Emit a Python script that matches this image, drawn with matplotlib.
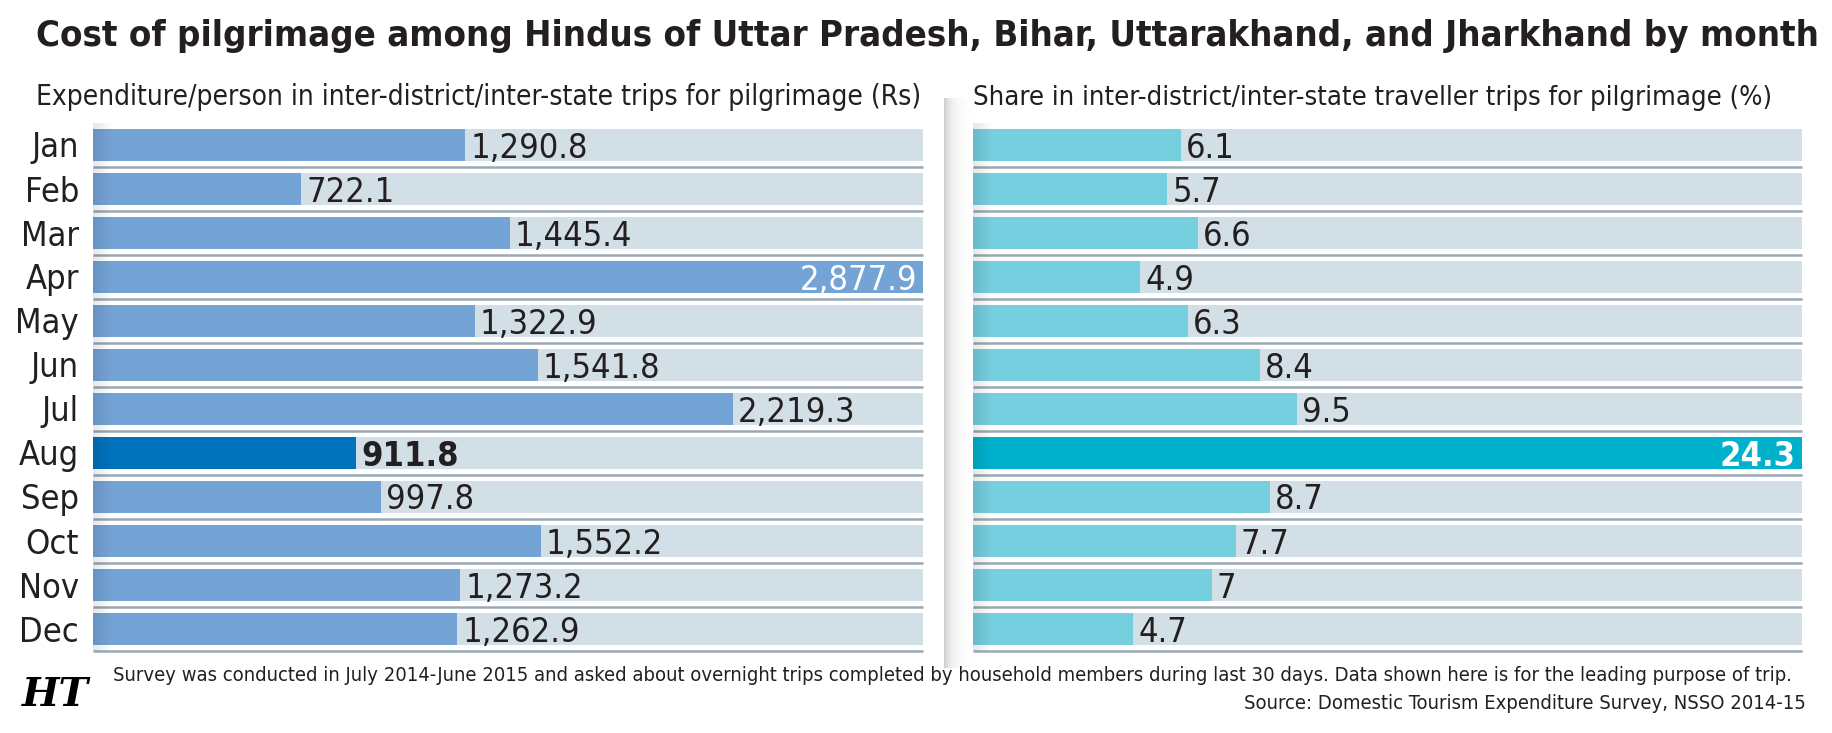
import matplotlib
matplotlib.use("Agg")
import matplotlib.pyplot as plt
import numpy as np
from matplotlib import font_manager as fm
from matplotlib.textpath import TextPath

# data
months = ["Jan", "Feb", "Mar", "Apr", "May", "Jun", "Jul", "Aug", "Sep", "Oct", "Nov", "Dec"]
spend = [1290.8, 722.1, 1445.4, 2877.9, 1322.9, 1541.8, 2219.3, 911.8, 997.8, 1552.2, 1273.2, 1262.9]
share = [6.1, 5.7, 6.6, 4.9, 6.3, 8.4, 9.5, 24.3, 8.7, 7.7, 7.0, 4.7]
highlight_month = "Aug"

title = "Cost of pilgrimage among Hindus of Uttar Pradesh, Bihar, Uttarakhand, and Jharkhand by month"
left_subtitle = "Expenditure/person in inter-district/inter-state trips for pilgrimage (Rs)"
right_subtitle = "Share in inter-district/inter-state traveller trips for pilgrimage (%)"
note = ("Survey was conducted in July 2014-June 2015 and asked about overnight trips completed by "
        "household members during last 30 days. Data shown here is for the leading purpose of trip.")
source = "Source: Domestic Tourism Expenditure Survey, NSSO 2014-15"

spend_labels = [f"{v:,.1f}" for v in spend]
share_labels = [f"{v:g}" for v in share]

BAND = "#D3DFE7"
LEFT, LEFT_HL = "#74A3D5", "#0072BB"
RIGHT, RIGHT_HL = "#76CFDF", "#00B1CC"
LINE = "#9AA8B2"
INK = "#231F20"


def weight_num(w):
    if isinstance(w, str):
        return fm.weight_dict.get(w, 400)
    return w


def find_font(bold):
    # prefer a narrow / condensed sans, the original uses a condensed face
    cands = []
    for f in fm.fontManager.ttflist:
        if f.style != "normal":
            continue
        if (weight_num(f.weight) >= 600) != bold:
            continue
        if f.name == "Liberation Sans Narrow":
            cands.append((0, f.fname))
        elif f.name.startswith("DejaVu Sans") and "Condensed" in f.fname and "Mono" not in f.fname:
            cands.append((1, f.fname))
        elif "Condensed" in f.name and "Mono" not in f.name:
            cands.append((2, f.fname))
    if cands:
        return fm.FontProperties(fname=sorted(cands)[0][1])
    return fm.FontProperties(family="DejaVu Sans", weight="bold" if bold else "normal")


REG = find_font(False)
BOLD = find_font(True)


def prop(bold, size):
    p = (BOLD if bold else REG).copy()
    p.set_size(size)
    return p


def size_for_cap(bold, cap_px):
    ratio = TextPath((0, 0), "H", size=1, prop=(BOLD if bold else REG)).get_extents().height
    return cap_px * 0.72 / ratio


W, H = 1832, 733
fig = plt.figure(figsize=(W / 100, H / 100), dpi=100)
fig.patch.set_facecolor("white")


def fx(px):
    return px / W


def fy(py):
    return 1 - py / H


top, bottom = 123, 651
row_px = (bottom - top) / len(months)
bar_h = 32 / row_px
base_off = 12.5 / row_px
lab_size = size_for_cap(False, 25)

axL = fig.add_axes([fx(93), fy(bottom), (923 - 93) / W, (bottom - top) / H])
axR = fig.add_axes([fx(973), fy(bottom), (1802 - 973) / W, (bottom - top) / H])


def draw_panel(ax, vals, labels, col, hcol):
    y = np.arange(len(vals))
    vmax = max(vals)
    ax.barh(y, [vmax] * len(vals), height=bar_h, color=BAND, zorder=1)
    colors = [hcol if m == highlight_month else col for m in months]
    ax.barh(y, vals, height=bar_h, color=colors, zorder=2)
    ax.hlines(y + 0.5, 0, vmax, color=LINE, lw=1.8, clip_on=False, zorder=3)
    # soft fold shadow at left edge (black, fading alpha)
    shade = np.zeros((1, 60, 4))
    shade[0, :, 3] = np.linspace(0.10, 0, 60)
    ax.imshow(shade, aspect="auto", extent=[0, 20 / 830, 0, 1],
              transform=ax.transAxes, zorder=4)
    ax.set_xlim(0, vmax)
    ax.set_ylim(len(vals) - 0.5, -0.5)
    ax.axis("off")
    for yi, v, lab, m in zip(y, vals, labels, months):
        hl = m == highlight_month
        if v == vmax:
            ax.annotate(lab, (v, yi + base_off), xytext=(-6, 0), textcoords="offset pixels",
                        ha="right", va="baseline", color="white",
                        fontproperties=prop(hl, lab_size), zorder=5)
        else:
            ax.annotate(lab, (v, yi + base_off), xytext=(5, 0), textcoords="offset pixels",
                        ha="left", va="baseline", color=INK,
                        fontproperties=prop(hl, lab_size), zorder=5)


draw_panel(axL, spend, spend_labels, LEFT, LEFT_HL)
draw_panel(axR, share, share_labels, RIGHT, RIGHT_HL)

for yi, m in enumerate(months):
    axL.annotate(m, (0, yi + base_off), xycoords=("axes fraction", "data"),
                 xytext=(-14, 0), textcoords="offset pixels", ha="right", va="baseline",
                 color=INK, fontproperties=prop(False, lab_size))

# page fold between the two panels
axD = fig.add_axes([fx(944), fy(668), (972 - 944) / W, (668 - 98) / H])
xs = np.linspace(0, 1, 80)
fold = (0.80 + 0.20 * (1 - np.exp(-4 * xs))).reshape(1, -1)
axD.imshow(fold, cmap="gray", vmin=0, vmax=1, aspect="auto")
axD.axis("off")

t_title = fig.text(fx(36), fy(46), title, ha="left", va="baseline", color=INK,
                   fontproperties=prop(True, 30))
t_sl = fig.text(fx(36), fy(105), left_subtitle, ha="left", va="baseline", color=INK,
                fontproperties=prop(False, 22))
t_sr = fig.text(fx(973), fy(105), right_subtitle, ha="left", va="baseline", color=INK,
                fontproperties=prop(False, 22))
t_note = fig.text(fx(113), fy(681), note, ha="left", va="baseline", color=INK,
                  fontproperties=prop(False, 15))
t_src = fig.text(fx(1806), fy(709), source, ha="right", va="baseline", color=INK,
                 fontproperties=prop(False, 15))
t_ht = fig.text(fx(22), fy(706), "HT", ha="left", va="baseline", color="black",
                family="DejaVu Serif", weight="bold", style="italic", fontsize=30)

fig.canvas.draw()
rend = fig.canvas.get_renderer()


def fit(t, width_px):
    cur = t.get_window_extent(rend).width
    t.set_fontsize(t.get_fontsize() * width_px / cur)


fit(t_title, 1815 - 36)
fit(t_sl, 923 - 36)
fit(t_sr, 1769 - 973)
fit(t_note, 1806 - 113)
t_src.set_fontsize(t_note.get_fontsize())
fit(t_ht, 89 - 22)

fig.savefig("out.png", dpi=100, facecolor="white")
